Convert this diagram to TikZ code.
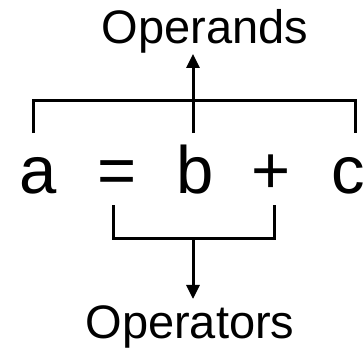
\documentclass[tikz,border=0pt]{standalone}
\usepackage{fontspec}
\setmainfont{Liberation Sans}
\usetikzlibrary{arrows.meta}
\definecolor{inkblack}{HTML}{000000}
\tikzset{
  eq sym/.style={anchor=base, inner sep=0pt, font=\fontsize{67}{80}\selectfont},
  eq lbl/.style={anchor=base, inner sep=1pt, font=\fontsize{47}{56}\selectfont},
  eq brk/.style={line width=3pt, inkblack},
  eq arr/.style={-{Triangle[length=14pt, width=13pt]}, line width=3pt, inkblack},
}
\begin{document}
\begin{tikzpicture}[x=1pt, y=-1pt]
  \useasboundingbox (0,0) rectangle (364,348);
  \foreach \nm/\xx/\sy in {a/38/a, eq/117/{=}, b/195/b, plus/271/{+}, c/348/c}
     \node[eq sym] (\nm) at (\xx,193) {\sy};
  \node[eq lbl] (operands) at (205,43) {Operands};
  \node[eq lbl] (operators) at (190,338) {Operators};
  % brackets
  \coordinate (opl) at (33,133); \coordinate (opr) at (355,133); \coordinate (opm) at (193,100);
  \coordinate (orl) at (113,205); \coordinate (orr) at (274,205); \coordinate (orm) at (193,238);
  \draw[eq brk] (opl) |- (opm) -| (opr);
  \draw[eq brk] (opm |- opl) -- (opm);
  \draw[eq arr] (opm) -- (opm |- operands.south);
  \draw[eq brk] (orl) |- (orm) -| (orr);
  \draw[eq arr] (orm) -- ([yshift=5pt]orm |- operators.north);
\end{tikzpicture}
\end{document}
